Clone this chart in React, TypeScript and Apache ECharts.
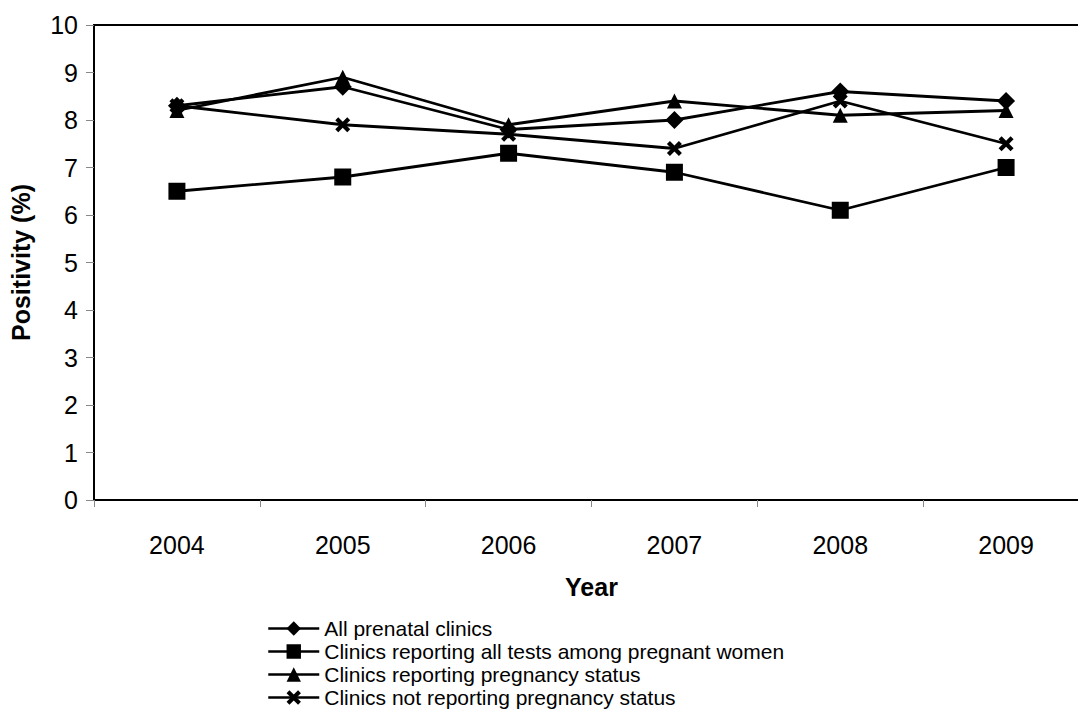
import React, { useEffect, useRef } from "react";
import * as echarts from "echarts";

const years = ["2004", "2005", "2006", "2007", "2008", "2009"];
const allPrenatal = [8.3, 8.7, 7.8, 8.0, 8.6, 8.4];
const allTestsPregnant = [6.5, 6.8, 7.3, 6.9, 6.1, 7.0];
const reportingStatus = [8.2, 8.9, 7.9, 8.4, 8.1, 8.2];
const notReportingStatus = [8.3, 7.9, 7.7, 7.4, 8.4, 7.5];
const seriesNames = [
  "All prenatal clinics",
  "Clinics reporting all tests among pregnant women",
  "Clinics reporting pregnancy status",
  "Clinics not reporting pregnancy status",
];

const X_PATH =
  "path://M0,2 L2,0 L5,3 L8,0 L10,2 L7,5 L10,8 L8,10 L5,7 L2,10 L0,8 L3,5 Z";

export default function App() {
  const ref = useRef<HTMLDivElement>(null);
  useEffect(() => {
    if (!ref.current) return;
    const chart = echarts.init(ref.current, undefined, { renderer: "svg" });
    const font = "Liberation Sans, Arial, sans-serif";
    const mk = (name: string, data: number[], symbol: string, size: number) => ({
      name,
      type: "line",
      data,
      symbol,
      symbolSize: size,
      lineStyle: { color: "#000", width: 2.8 },
      itemStyle: { color: "#000" },
      z: 3,
    });
    chart.setOption({
      animation: false,
      backgroundColor: "#fff",
      textStyle: { fontFamily: font, color: "#000" },
      grid: {
        left: 91,
        top: 25,
        width: 998,
        height: 475,
        show: true,
        borderColor: "#000",
        borderWidth: 2,
        backgroundColor: "transparent",
      },
      legend: {
        orient: "vertical",
        left: 267,
        top: 618,
        height: 110,
        padding: 0,
        itemWidth: 51,
        itemHeight: 18,
        itemGap: 2,
        lineStyle: { width: 2.5, color: "#000" },
        textStyle: { fontSize: 21, lineHeight: 21, color: "#000", fontFamily: font },
        data: seriesNames,
      },
      xAxis: {
        type: "category",
        data: years,
        boundaryGap: true,
        name: "Year",
        nameLocation: "middle",
        nameGap: 74,
        nameTextStyle: { fontSize: 25, fontWeight: "bold", color: "#000", fontFamily: font },
        axisLine: { lineStyle: { color: "#000", width: 2 } },
        axisTick: { show: true, length: 7, lineStyle: { color: "#888", width: 1 } },
        axisLabel: { fontSize: 25, color: "#000", margin: 32, fontFamily: font },
        splitLine: { show: false },
      },
      yAxis: {
        type: "value",
        min: 0,
        max: 10,
        interval: 1,
        name: "Positivity (%)",
        nameLocation: "middle",
        nameGap: 61,
        nameTextStyle: { fontSize: 25, fontWeight: "bold", color: "#000", fontFamily: font },
        axisLine: { show: true, lineStyle: { color: "#000", width: 2 } },
        axisTick: { show: true, length: 8, lineStyle: { color: "#888", width: 1 } },
        axisLabel: { fontSize: 25, color: "#000", margin: 16, fontFamily: font },
        splitLine: { show: false },
      },
      series: [
        mk(seriesNames[0], allPrenatal, "diamond", 18),
        mk(seriesNames[1], allTestsPregnant, "rect", 17),
        mk(seriesNames[2], reportingStatus, "triangle", 15),
        mk(seriesNames[3], notReportingStatus, X_PATH, 15),
      ],
    });
    return () => chart.dispose();
  }, []);
  return (
    <div
      style={{ position: "fixed", left: 0, top: 0, width: 1078, height: 721, overflow: "hidden", background: "#fff" }}
    >
      <div ref={ref} style={{ width: 1100, height: 721 }} />
    </div>
  );
}
